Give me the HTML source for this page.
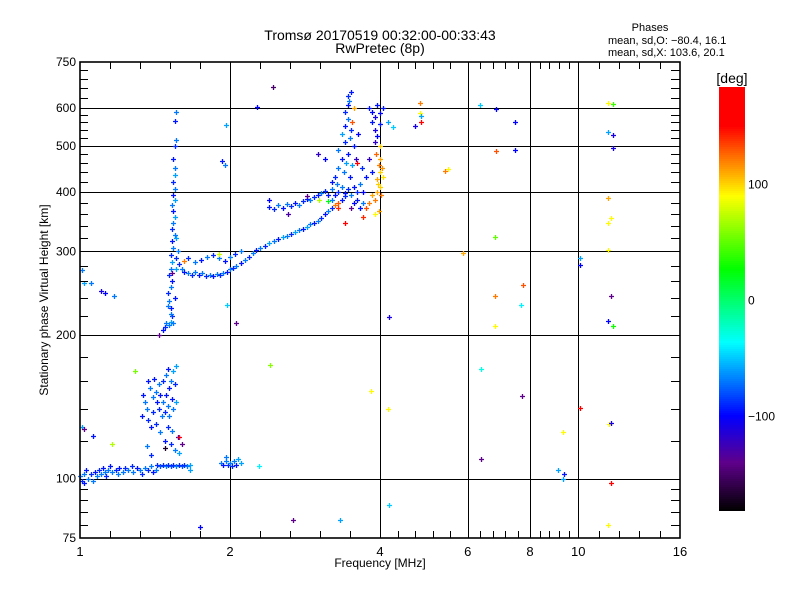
<!DOCTYPE html>
<html><head><meta charset="utf-8">
<style>
html,body{margin:0;padding:0;background:#fff;}
svg{display:block;font-family:"Liberation Sans",sans-serif;}
</style></head>
<body>
<svg id="chart" width="800" height="600" viewBox="0 0 800 600">
  <rect x="0" y="0" width="800" height="600" fill="#fff"/>
  <text x="380" y="40" text-anchor="middle" font-size="14">Tromsø 20170519 00:32:00-00:33:43</text>
  <text x="380" y="53" text-anchor="middle" font-size="14">RwPretec (8p)</text>
  <text x="650" y="31" text-anchor="middle" font-size="11">Phases</text>
  <text x="608" y="44" font-size="11">mean, sd,O: −80.4, 16.1</text>
  <text x="608" y="56" font-size="11">mean, sd,X: 103.6, 20.1</text>
  <text x="380" y="567" text-anchor="middle" font-size="12">Frequency [MHz]</text>
  <text x="48" y="300" text-anchor="middle" font-size="12" transform="rotate(-90 48 300)">Stationary phase Virtual Height [km]</text>
  <g id="grid"></g>
  <g id="marks"></g>
  <g id="axes"></g>
  <g id="cbar"></g>
</svg>
<script>
const xTickLabels = [1, 2, 4, 6, 8, 10, 16];
const xGridValues = [2, 4, 6, 8, 10];
const yTickLabels = [75, 100, 200, 300, 400, 500, 600, 750];
const yGridValues = [100, 200, 300, 400, 500, 600];
const cbarTicks = [100, 0, -100];

const eTrace = [[1.00,101,-70],[1.01,99,-90],[1.02,102,-70],[1.02,98,-95],[1.03,104,-95],[1.04,100,-70],[1.05,102,-90],[1.06,99,-70],[1.07,103,-95],[1.08,101,-70],[1.09,104,-90],[1.10,102,-70],[1.11,105,-95],[1.12,103,-70],[1.13,101,-90],[1.14,104,-70],[1.15,106,-95],[1.16,103,-70],[1.18,104,-90],[1.19,102,-70],[1.20,105,-95],[1.22,103,-70],[1.23,105,-90],[1.25,104,-70],[1.27,106,-90],[1.28,103,-70],[1.30,105,-95],[1.32,104,-70],[1.33,102,-90],[1.35,105,-70],[1.37,104,-90],[1.39,106,-70],[1.40,103,-95],[1.42,104,-70],[1.43,107,-90],[1.45,106,-80],[1.47,107,-90],[1.49,106,-70],[1.50,107,-90],[1.52,106,-80],[1.54,107,-90],[1.56,106,-70],[1.58,107,-90],[1.60,106,-80],[1.62,107,-90],[1.64,106,-70],[1.66,107,-60],[1.66,104,-60],[1.92,108,-70],[1.94,107,-95],[1.96,109,-70],[1.98,107,-90],[2.00,108,-70],[2.02,106,-90],[2.04,109,-70],[2.06,107,-95],[2.08,110,-60],[1.96,111,-70],[2.10,108,-60],[2.29,106,-40]];

const esCluster = [[1.34,150,-95],[1.35,145,-70],[1.36,140,-70],[1.37,160,-95],[1.37,133,-90],[1.38,155,-70],[1.39,128,-95],[1.40,148,-70],[1.40,138,-90],[1.41,162,-95],[1.42,152,-70],[1.42,130,-90],[1.43,145,-95],[1.44,158,-70],[1.44,140,-90],[1.45,125,-70],[1.45,150,-95],[1.46,135,-70],[1.47,160,-90],[1.47,145,-70],[1.48,120,-95],[1.48,138,-90],[1.49,165,-70],[1.49,150,-95],[1.50,142,-70],[1.50,128,-90],[1.51,155,-95],[1.51,135,-70],[1.52,160,-70],[1.52,118,-90],[1.53,147,-95],[1.53,126,-70],[1.54,168,-60],[1.54,140,-70],[1.55,158,-90],[1.55,115,-70],[1.56,145,-60],[1.57,122,-95],[1.56,172,-60],[1.33,135,-95],[1.36,117,-70],[1.39,112,-90],[1.58,113,-60],[1.50,170,-95],[1.29,168,55],[1.16,118,70],[1.48,116,-170],[1.58,122,160],[1.60,118,-140],[1.01,128,-60],[1.02,127,-140],[1.06,123,-95]];

const cuspTrace = [[1.47,205,-95],[1.48,208,-90],[1.49,212,-70],[1.51,210,-70],[1.52,213,-60],[1.54,212,-70],[1.53,220,-90],[1.52,228,-95],[1.51,236,-70],[1.50,245,-90],[1.52,252,-70],[1.53,260,-95],[1.51,268,-90],[1.52,276,-70],[1.53,285,-60],[1.52,295,-90],[1.54,305,-70],[1.53,315,-95],[1.55,325,-70],[1.53,335,-90],[1.54,345,-70],[1.55,355,-60],[1.54,365,-95],[1.53,375,-70],[1.55,385,-60],[1.54,395,-95],[1.55,405,-70],[1.54,420,-90],[1.55,435,-60],[1.55,450,-70],[1.54,470,-95],[1.55,500,-90],[1.56,515,-70],[1.55,565,-95],[1.56,590,-70],[1.56,275,-60],[1.57,300,-70],[1.56,290,-90],[1.50,230,-70],[1.55,240,-95],[1.53,270,-140],[1.56,320,-60],[1.44,200,-140]];

const fTrace = [[1.58,282,-90],[1.60,276,-70],[1.62,272,-95],[1.65,270,-70],[1.68,268,-90],[1.70,272,-70],[1.73,268,-95],[1.76,270,-70],[1.79,266,-90],[1.82,268,-70],[1.85,267,-95],[1.88,269,-70],[1.91,268,-90],[1.94,270,-70],[1.97,272,-95],[2.00,275,-70],[2.03,277,-90],[2.06,280,-70],[2.10,283,-95],[2.14,288,-70],[2.18,292,-90],[2.22,297,-70],[2.26,302,-95],[2.30,305,-70],[2.35,308,-90],[2.40,312,-60],[2.45,316,-70],[2.50,318,-95],[2.55,322,-60],[2.60,324,-70],[2.65,327,-90],[2.70,330,-60],[2.75,333,-70],[2.80,335,-95],[2.85,338,-60],[2.90,342,-70],[2.95,345,-95],[3.00,348,-70],[3.05,353,-90],[3.10,360,-95],[3.15,365,-70],[3.20,370,-90],[3.25,375,120],[3.30,380,130],[3.35,385,-95],[3.40,392,-90],[1.65,290,-90],[1.70,285,-70],[1.75,288,-95],[1.80,292,-70],[1.85,295,-90],[1.90,290,-70],[1.95,287,-95],[2.00,292,-70],[2.05,296,-90],[2.10,300,-70],[1.62,286,120],[1.90,296,75]];

const upperTrace = [[2.40,372,-95],[2.45,368,-90],[2.50,375,-70],[2.55,370,-95],[2.60,378,-70],[2.65,373,-90],[2.70,380,-95],[2.75,376,-70],[2.80,383,-90],[2.85,387,-95],[2.90,384,-70],[2.95,390,-90],[3.00,395,-95],[3.05,398,-70],[3.10,402,-90],[3.15,395,-95],[3.20,405,-70],[2.62,360,-130],[2.40,385,-100],[2.86,392,-140],[3.02,385,70],[3.15,382,20],[3.20,385,-70],[3.25,395,-95],[3.30,400,-90],[3.35,410,-70],[3.40,398,-95],[3.45,405,-90],[3.50,395,-70],[3.55,410,-95],[3.60,400,-90],[3.65,415,-70],[3.55,380,-100],[3.60,385,-95],[3.50,370,-140],[3.65,370,-95],[3.70,380,-70]];

const spreadF = [[3.25,430,-90],[3.30,450,-70],[3.35,470,-95],[3.30,490,-70],[3.40,510,-90],[3.35,530,-60],[3.40,550,-95],[3.45,570,-70],[3.40,590,-90],[3.45,610,-95],[3.45,635,-90],[3.50,650,-95],[3.47,620,-70],[3.42,460,-60],[3.45,480,-95],[3.48,520,-70],[3.50,540,-90],[3.38,440,-70],[3.48,430,-95],[3.52,455,-60],[3.55,500,-95],[3.10,470,-100],[3.00,480,-120],[3.55,600,110],[3.52,560,130],[3.62,530,-100],[3.58,470,-120],[3.20,420,-95],[3.28,415,-70],[3.80,600,-95],[3.85,590,-100],[3.90,575,-110],[3.95,610,-95],[4.00,585,-100],[3.85,560,-95],[3.90,540,-110],[3.95,525,-100],[4.00,555,-95],[3.90,510,-120],[4.05,600,-95],[4.15,560,-60],[3.70,400,-100],[3.75,430,-95],[3.68,450,-90],[3.80,470,-120],[3.85,440,-95]];

const xTrace = [[3.75,370,130],[3.80,380,120],[3.85,395,110],[3.90,385,120],[3.95,400,110],[4.00,410,100],[3.95,425,110],[4.00,440,100],[3.98,455,120],[4.00,470,110],[3.92,480,125],[4.05,430,95],[3.90,360,90],[3.98,365,110],[4.02,395,120],[3.70,355,140],[3.30,370,140],[3.40,345,150],[3.60,460,160],[4.00,500,100],[3.96,415,100],[4.03,450,115]];

const strayPoints = [[1.01,274,-70],[1.02,257,-60],[1.05,257,-70],[1.10,248,-110],[1.12,245,-100],[1.17,242,-70],[2.06,212,-140],[1.93,465,-95],[1.95,455,-70],[1.96,552,-60],[2.27,604,-100],[2.44,665,-150],[1.97,232,-50],[1.52,222,-70],[4.81,614,120],[4.81,587,90],[4.83,577,-60],[4.83,561,150],[4.70,549,-110],[5.48,447,90],[5.40,443,120],[6.35,609,-50],[6.83,598,-100],[7.47,561,-100],[4.25,547,-50],[6.83,487,130],[7.47,491,-100],[11.45,615,90],[11.73,613,40],[11.45,534,-60],[11.73,527,-110],[11.73,495,-110],[5.88,297,110],[6.81,321,50],[6.81,242,120],[6.81,209,90],[7.75,255,130],[7.67,231,-40],[10.08,290,-60],[10.08,281,-100],[11.45,302,90],[11.64,242,-140],[11.45,214,-100],[11.73,209,30],[11.45,345,90],[11.64,352,90],[11.45,389,110],[6.38,170,-30],[6.38,110,-140],[7.70,149,-140],[9.33,125,90],[10.08,141,160],[11.50,130,90],[11.64,131,-110],[9.10,104,-60],[9.37,102,-95],[9.30,100,-60],[11.64,98,170],[11.45,80,90],[3.84,153,90],[4.15,140,90],[4.17,88,-50],[4.17,218,-110],[2.67,82,-140],[3.32,82,-60],[1.74,79,-100],[2.41,173,60]];

const groups = [eTrace, esCluster, cuspTrace, fTrace, upperTrace, spreadF, xTrace, strayPoints];
const groupNames = ['e-trace-point','es-point','f1-cusp-point','f-trace-point','upper-trace-point','spread-f-point','x-trace-point','stray-point'];

const NS = 'http://www.w3.org/2000/svg';
const X0 = 80, X1 = 680, Y0 = 62, Y1 = 538;
function xScale(f){ return X0 + (X1 - X0) * Math.log2(f) / 4; }
function yScale(h){ return Y1 - (Y1 - Y0) * Math.log10(h / 75); }
const CB_TOP = 87, CB_BOT = 511, CB_MIN = -182, CB_MAX = 183;
function cbY(v){ return CB_BOT - (v - CB_MIN) / (CB_MAX - CB_MIN) * (CB_BOT - CB_TOP); }
const stops = [[-182,[0,0,0]],[-140,[95,0,140]],[-100,[0,0,255]],[-37,[0,255,255]],[26,[0,255,0]],[89,[255,255,0]],[149,[255,0,0]],[183,[255,0,0]]];
function color(v){
  if (v <= stops[0][0]) return 'rgb(0,0,0)';
  for (let i = 1; i < stops.length; i++) {
    if (v <= stops[i][0]) {
      const a = stops[i-1], b = stops[i], t = (v - a[0]) / (b[0] - a[0]);
      const c = a[1].map((q, k) => Math.round(q + (b[1][k] - q) * t));
      return 'rgb(' + c.join(',') + ')';
    }
  }
  return 'rgb(255,0,0)';
}
function mk(tag, attrs, parent){
  const e = document.createElementNS(NS, tag);
  for (const k in attrs) e.setAttribute(k, attrs[k]);
  parent.appendChild(e);
  return e;
}
const grid = document.getElementById('grid');
const axes = document.getElementById('axes');
const marks = document.getElementById('marks');
const cbar = document.getElementById('cbar');

xGridValues.forEach(v => {
  const x = Math.round(xScale(v)) + 0.5;
  const l = mk('line', {x1:x, x2:x, y1:Y0, y2:Y1, stroke:'#000', 'stroke-width':1}, grid);
  
  
});
yGridValues.forEach(v => {
  const y = Math.round(yScale(v)) + 0.5;
  const l = mk('line', {x1:X0, x2:X1, y1:y, y2:y, stroke:'#000', 'stroke-width':1}, grid);
  
  
});

groups.forEach((g, gi) => {
  g.forEach(p => {
    const x = Math.round(xScale(p[0])), y = Math.round(yScale(p[1]));
    const c = color(p[2]);
    const m = mk('path', {d:'M'+(x-2)+' '+(y+0.5)+'h5M'+(x+0.5)+' '+(y-2)+'v5', stroke:c, 'stroke-width':1.3, fill:'none'}, marks);
    
    
  });
});

// frame
const frame = mk('rect', {x:X0, y:Y0, width:X1-X0, height:Y1-Y0, fill:'none', stroke:'#000', 'stroke-width':1.6}, axes);



// x minor ticks: 4 per interval, log-evenly spaced
for (let i = 0; i < xTickLabels.length - 1; i++) {
  const a = Math.log2(xTickLabels[i]), b = Math.log2(xTickLabels[i+1]);
  for (let k = 1; k < 5; k++) {
    const x = Math.round(xScale(Math.pow(2, a + (b - a) * k / 5))) + 0.5;
    const t1 = mk('line', {x1:x, x2:x, y1:Y1, y2:Y1-7, stroke:'#000'}, axes);
    
    
    const t2 = mk('line', {x1:x, x2:x, y1:Y0, y2:Y0+7, stroke:'#000'}, axes);
    
    
  }
}
xTickLabels.forEach(v => {
  const t = mk('text', {x:xScale(v), y:556, 'text-anchor':'middle', 'font-size':13}, axes);
  t.textContent = v;
  
  
});
// y minor ticks: linear subdivisions
for (let i = 0; i < yTickLabels.length - 1; i++) {
  const a = yTickLabels[i], b = yTickLabels[i+1];
  for (let k = 1; k < 5; k++) {
    const y = Math.round(yScale(a + (b - a) * k / 5)) + 0.5;
    const t1 = mk('line', {x1:X0, x2:X0+8, y1:y, y2:y, stroke:'#000'}, axes);
    
    
    const t2 = mk('line', {x1:X1, x2:X1-9, y1:y, y2:y, stroke:'#000'}, axes);
    
    
  }
}
yTickLabels.forEach(v => {
  const t = mk('text', {x:76, y:yScale(v)+4, 'text-anchor':'end', 'font-size':12}, axes);
  t.textContent = v;
  
  
});

// colorbar
for (let y = CB_TOP; y < CB_BOT; y += 2) {
  const v = CB_MAX - (y - CB_TOP + 1) / (CB_BOT - CB_TOP) * (CB_MAX - CB_MIN);
  const r = mk('rect', {x:719, y:y, width:26, height:2, fill:color(v)}, cbar);
  
  
}
cbarTicks.forEach(v => {
  const t = mk('text', {x:748, y:cbY(v)+5, 'font-size':12}, cbar);
  t.textContent = v === 0 ? '0' : (v < 0 ? '−' + Math.abs(v) : String(v));
  
  
});
const unit = mk('text', {x:732, y:83, 'text-anchor':'middle', 'font-size':14}, cbar);
unit.textContent = '[deg]';


</script>
</body></html>
